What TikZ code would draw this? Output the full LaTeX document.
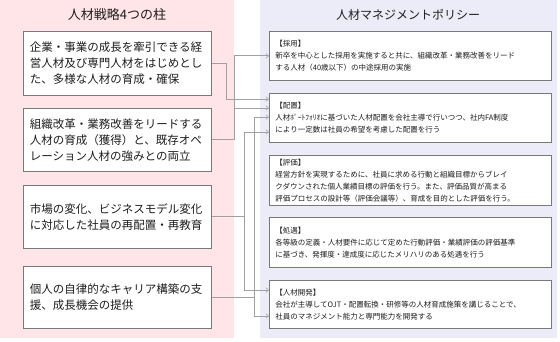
\documentclass[tikz,border=0pt]{standalone}
\usepackage{fontspec}
\setmainfont{Noto Sans CJK JP}
\usetikzlibrary{arrows.meta}
\definecolor{pinkbg}{RGB}{255,228,232}
\definecolor{lavbg}{RGB}{236,236,249}
\definecolor{boxline}{RGB}{120,120,120}
\definecolor{connline}{RGB}{160,160,160}
\definecolor{txt}{RGB}{30,30,30}
\tikzset{
  lbox/.style={draw=boxline, line width=0.8pt, fill=white, anchor=north west,
    minimum width=188pt, text width=175pt, inner xsep=6.5pt, align=left,
    font=\fontsize{11.5}{16}\selectfont, text=txt},
  rbox/.style={draw=boxline, line width=0.8pt, fill=white, anchor=north west,
    minimum width=282pt, text width=270pt, inner xsep=6pt, align=left,
    font=\fontsize{7.5}{12.2}\selectfont, text=txt},
  conn/.style={draw=connline, line width=0.8pt},
  tip/.style={-{Straight Barb[length=2.6pt,width=4.5pt,line width=0.6pt]}},
  tips/.style={{Straight Barb[length=2.6pt,width=4.5pt,line width=0.6pt]}-{Straight Barb[length=2.6pt,width=4.5pt,line width=0.6pt]}},
  ttl/.style={text=txt}
}
\begin{document}
\begin{tikzpicture}[x=1pt,y=-1pt]
\useasboundingbox (0,0) rectangle (560,342);
\fill[pinkbg] (0,0) rectangle (234,338);
\fill[lavbg] (260,0) rectangle (557,338);
\node[ttl, font=\fontsize{13}{15}\selectfont] (t1) at (117,15) {人材戦略4つの柱};
\node[ttl, font=\fontsize{12}{15}\selectfont] (t2) at (408,15) {人材マネジメントポリシー};
% left boxes
\node[lbox, minimum height=64pt] (L1) at (23,31) {企業・事業の成長を牽引できる経\\営人材及び専門人材をはじめとし\\た、多様な人材の育成・確保};
\node[lbox, minimum height=63pt] (L2) at (23,108) {組織改革・業務改善をリードする\\人材の育成（獲得）と、既存オペ\\レーション人材の強みとの両立};
\node[lbox, minimum height=63pt] (L3) at (23,185) {市場の変化、ビジネスモデル変化\\に対応した社員の再配置・再教育};
\node[lbox, minimum height=62pt] (L4) at (23,266) {個人の自律的なキャリア構築の支\\援、成長機会の提供};
% right boxes
\node[rbox, minimum height=49pt] (A) at (269,31) {【採用】\\新卒を中心とした採用を実施すると共に、組織改革・業務改善をリード\\する人材（40歳以下）の中途採用の実施};
\node[rbox, minimum height=49pt] (B) at (269,93) {【配置】\\人材ﾎﾟｰﾄﾌｫﾘｵに基づいた人材配置を会社主導で行いつつ、社内FA制度\\により一定数は社員の希望を考慮した配置を行う};
\node[rbox, minimum height=50pt] (C) at (269,155) {【評価】\\経営方針を実現するために、社員に求める行動と組織目標からブレイ\\クダウンされた個人業績目標の評価を行う。また、評価品質が高まる\\評価プロセスの設計等（評価会議等）、育成を目的とした評価を行う。};
\node[rbox, minimum height=50pt] (D) at (269,217) {【処遇】\\各等級の定義・人材要件に応じて定めた行動評価・業績評価の評価基準\\に基づき、発揮度・達成度に応じたメリハリのある処遇を行う};
\node[rbox, minimum height=48pt] (E) at (269,280) {【人材開発】\\会社が主導してOJT・配置転換・研修等の人材育成施策を講じることで、\\社員のマネジメント能力と専門能力を開発する};
% connectors
\draw[conn,tip] (L1.east) -- +(15,0) |- ([yshift=-6pt]B.north west);
\draw[conn,tip] (L2.east) -- +(23,0) |- (A.west);
\draw[conn,tip] ([xshift=23pt]L2.east) |- ([yshift=-15pt]B.north west);
\draw[conn] (L3.east) -- +(33,0);
\draw[conn,tips] ([yshift=-39pt]B.north west) -| ([xshift=33pt]L3.east |- E.north) |- ([yshift=-10pt]E.north west);
\draw[conn] (L4.east) -- +(43,0);
\draw[conn,tips] ([yshift=-24pt]B.north west) -| ([xshift=43pt]L4.east |- E.north) |- ([yshift=-36pt]E.north west);
\end{tikzpicture}
\end{document}
